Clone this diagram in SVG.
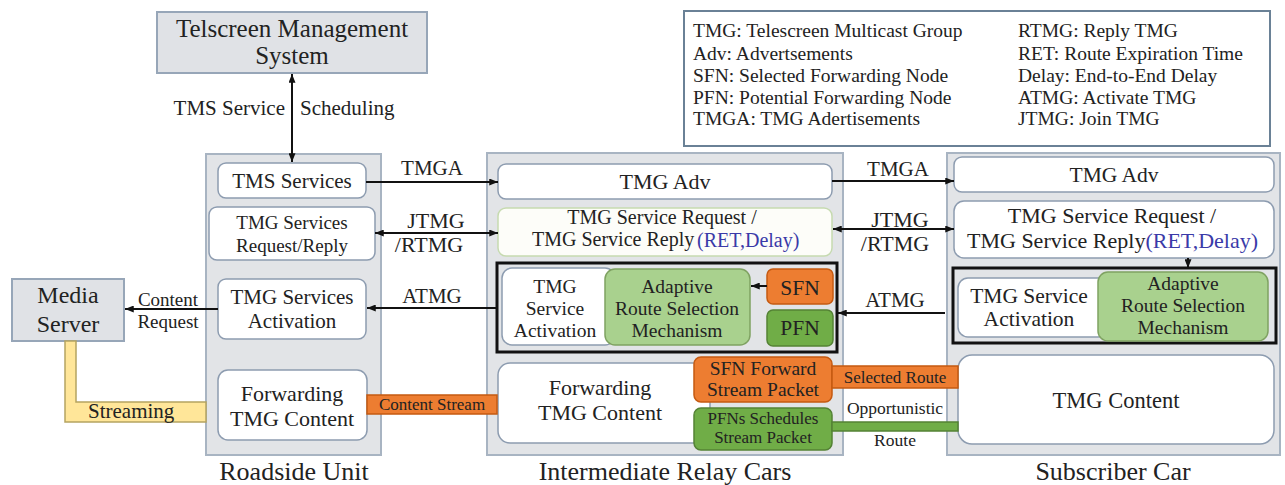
<svg xmlns="http://www.w3.org/2000/svg" width="1285" height="485" viewBox="0 0 1285 485" font-family="'Liberation Serif', 'DejaVu Serif', 'Times New Roman', serif">
<style>
text{font-family:'Liberation Serif','DejaVu Serif','Times New Roman',serif;fill:#222;}
.c{text-anchor:middle;}
.e{text-anchor:end;}
.cont{fill:#e2e4e7;stroke:#a8b4c2;stroke-width:2;}
.gray{fill:#e0e2e6;stroke:#97a6b8;stroke-width:2;}
.wb{fill:#fff;stroke:#8d9cb0;stroke-width:1.5;}
.gb{fill:#fdfdf9;stroke:#c6dab0;stroke-width:1.5;}
.lg{fill:#a9d18e;stroke:#7fa262;stroke-width:1.5;}
.dg{fill:#70ad47;stroke:#548235;stroke-width:1.5;}
.or{fill:#ed7d31;stroke:#c55a11;stroke-width:1.5;}
.blk{fill:none;stroke:#111;stroke-width:3;}
.ln{stroke:#111;stroke-width:2;fill:none;}
.blue{fill:#3a3aa8;}
.leg{font-size:19.5px;}
</style>
<defs>
<marker id="ah" viewBox="0 0 10 8" refX="10" refY="4" markerWidth="9" markerHeight="7" markerUnits="userSpaceOnUse" orient="auto-start-reverse">
<path d="M0,0 L10,4 L0,8 z" fill="#111"/>
</marker>
</defs>

<g id="legend">
<rect x="684" y="11" width="586" height="135" fill="#fff" stroke="#6a8196" stroke-width="2"/>
<text class="leg" x="693" y="37">TMG: Telescreen Multicast Group</text>
<text class="leg" x="693" y="60">Adv: Advertsements</text>
<text class="leg" x="693" y="82">SFN: Selected Forwarding Node</text>
<text class="leg" x="693" y="104">PFN: Potential Forwarding Node</text>
<text class="leg" x="693" y="125">TMGA: TMG Adertisements</text>
<text class="leg" x="1018" y="37">RTMG: Reply TMG</text>
<text class="leg" x="1018" y="60">RET: Route Expiration Time</text>
<text class="leg" x="1018" y="82">Delay: End-to-End Delay</text>
<text class="leg" x="1018" y="104">ATMG: Activate TMG</text>
<text class="leg" x="1018" y="125">JTMG: Join TMG</text>
</g>

<g id="tms">
<rect class="gray" x="157" y="12" width="270" height="61"/>
<text class="c" x="292" y="37" font-size="25">Telscreen Management</text>
<text class="c" x="292" y="64" font-size="25">System</text>
</g>

<g id="media-server">
<rect class="gray" x="12" y="279" width="112" height="62"/>
<text class="c" x="68" y="303" font-size="24">Media</text>
<text class="c" x="68" y="332" font-size="24">Server</text>
</g>

<g id="roadside-unit">
<rect class="cont" x="206" y="154" width="175" height="301"/>
<text class="c" x="294" y="480" font-size="26">Roadside Unit</text>
</g>
<g id="rsu-tms-services">
<rect class="wb" x="218" y="163" width="148" height="35" rx="8"/>
<text class="c" x="292" y="188" font-size="21">TMS Services</text>
</g>
<g id="rsu-request-reply">
<rect class="wb" x="209" y="207" width="166" height="53" rx="8"/>
<text class="c" x="292" y="229" font-size="19">TMG Services</text>
<text class="c" x="292" y="252" font-size="19">Request/Reply</text>
</g>
<g id="rsu-activation">
<rect class="wb" x="218" y="279" width="148" height="60" rx="8"/>
<text class="c" x="292" y="304" font-size="21">TMG Services</text>
<text class="c" x="292" y="328" font-size="21">Activation</text>
</g>
<g id="rsu-forwarding">
<rect class="wb" x="218" y="370" width="149" height="70" rx="10"/>
<text class="c" x="292" y="401" font-size="22">Forwarding</text>
<text class="c" x="292" y="426" font-size="22">TMG Content</text>
</g>

<g id="relay-cars">
<rect class="cont" x="487" y="153" width="356" height="302"/>
<text class="c" x="665" y="480" font-size="26">Intermediate Relay Cars</text>
</g>
<g id="relay-adv">
<rect class="wb" x="498" y="164" width="334" height="35" rx="8"/>
<text class="c" x="665" y="189" font-size="22">TMG Adv</text>
</g>
<g id="relay-request">
<rect class="gb" x="498" y="208" width="334" height="48" rx="8"/>
<text class="c" x="662" y="224" font-size="20">TMG Service Request /</text>
<text x="532" y="246" font-size="20">TMG Service Reply</text>
<text class="blue" x="697" y="247" font-size="20">(RET,Delay)</text>
</g>
<g id="relay-activation-group">
<rect class="blk" x="497" y="263" width="340" height="89"/>
<rect class="wb" x="502" y="268" width="113" height="77" rx="10"/>
<text class="c" x="555" y="293" font-size="19.5">TMG</text>
<text class="c" x="555" y="315" font-size="19.5">Service</text>
<text class="c" x="555" y="337" font-size="19.5">Activation</text>
</g>
<g id="relay-adaptive">
<rect class="lg" x="605" y="269" width="145" height="76" rx="10"/>
<text class="c" x="677" y="293" font-size="19.5">Adaptive</text>
<text class="c" x="677" y="315" font-size="19.5">Route Selection</text>
<text class="c" x="677" y="337" font-size="19.5">Mechanism</text>
</g>
<g id="relay-sfn">
<rect class="or" x="767" y="269" width="66" height="35" rx="6"/>
<text class="c" x="800" y="295" font-size="21.5">SFN</text>
</g>
<g id="relay-pfn">
<rect class="dg" x="767" y="310" width="66" height="36" rx="6"/>
<text class="c" x="800" y="335" font-size="21.5">PFN</text>
</g>
<g id="relay-forwarding">
<rect class="wb" x="498" y="363" width="212" height="80" rx="12"/>
<text class="c" x="600" y="395" font-size="22">Forwarding</text>
<text class="c" x="600" y="420" font-size="22">TMG Content</text>
</g>
<g id="relay-sfn-forward">
<rect class="or" x="694" y="357" width="138" height="45" rx="7"/>
<text class="c" x="763" y="375" font-size="19.5">SFN Forward</text>
<text class="c" x="763" y="396" font-size="19.5">Stream Packet</text>
</g>
<g id="relay-pfn-schedules">
<rect class="dg" x="694" y="408" width="138" height="42" rx="7"/>
<text class="c" x="763" y="424" font-size="17">PFNs Schedules</text>
<text class="c" x="763" y="443" font-size="17">Stream Packet</text>
</g>

<g id="subscriber-car">
<rect class="cont" x="947" y="153" width="333" height="302"/>
<text class="c" x="1113" y="480" font-size="26">Subscriber Car</text>
</g>
<g id="sub-adv">
<rect class="wb" x="954" y="157" width="320" height="35" rx="8"/>
<text class="c" x="1114" y="182" font-size="21.5">TMG Adv</text>
</g>
<g id="sub-request">
<rect class="wb" x="954" y="201" width="320" height="57" rx="10"/>
<text class="c" x="1112" y="223" font-size="22">TMG Service Request /</text>
<text x="967" y="248" font-size="22">TMG Service Reply<tspan class="blue">(RET,Delay)</tspan></text>
</g>
<g id="sub-activation-group">
<rect class="blk" x="953" y="268" width="323" height="75"/>
<rect class="wb" x="958" y="278" width="150" height="59" rx="10"/>
<text class="c" x="1029" y="303" font-size="21.5">TMG Service</text>
<text class="c" x="1029" y="326" font-size="21.5">Activation</text>
</g>
<g id="sub-adaptive">
<rect class="lg" x="1098" y="272" width="170" height="69" rx="10"/>
<text class="c" x="1183" y="290" font-size="19.5">Adaptive</text>
<text class="c" x="1183" y="312" font-size="19.5">Route Selection</text>
<text class="c" x="1183" y="334" font-size="19.5">Mechanism</text>
</g>
<g id="sub-content">
<rect class="wb" x="958" y="355" width="316" height="89" rx="14"/>
<text class="c" x="1116" y="408" font-size="22.5">TMG Content</text>
</g>

<g id="connectors">
<line class="ln" x1="292" y1="74" x2="292" y2="162" marker-start="url(#ah)" marker-end="url(#ah)"/>
<text class="e" x="285" y="115" font-size="21">TMS Service</text>
<text x="300" y="115" font-size="21">Scheduling</text>

<line class="ln" x1="218" y1="309" x2="125" y2="309" marker-end="url(#ah)"/>
<text class="c" x="168" y="306" font-size="19">Content</text>
<text class="c" x="168" y="328" font-size="19">Request</text>

<path d="M65,341 L76,341 L76,402 L206,402 L206,422 L65,422 Z" fill="#ffe699" stroke="#b5a460" stroke-width="1.5"/>
<text x="88" y="418" font-size="21" fill="#333">Streaming</text>

<rect class="or" x="367" y="395" width="130" height="19"/>
<text class="c" x="432" y="410" font-size="17">Content Stream</text>

<line class="ln" x1="366" y1="182" x2="498" y2="182" marker-end="url(#ah)"/>
<text class="c" x="432" y="175" font-size="21">TMGA</text>
<line class="ln" x1="375" y1="233" x2="498" y2="233" marker-start="url(#ah)" marker-end="url(#ah)"/>
<text class="c" x="436" y="228" font-size="22">JTMG</text>
<text class="c" x="429" y="252" font-size="22">/RTMG</text>
<line class="ln" x1="497" y1="308" x2="367" y2="308" marker-end="url(#ah)"/>
<text class="c" x="432" y="303" font-size="21">ATMG</text>

<line class="ln" x1="767" y1="286" x2="751" y2="286" marker-end="url(#ah)"/>

<line class="ln" x1="832" y1="181" x2="954" y2="181" marker-end="url(#ah)"/>
<text class="c" x="898" y="176" font-size="21">TMGA</text>
<line class="ln" x1="833" y1="229" x2="954" y2="229" marker-start="url(#ah)" marker-end="url(#ah)"/>
<text class="c" x="900" y="227" font-size="22">JTMG</text>
<text class="c" x="895" y="251" font-size="22">/RTMG</text>
<line class="ln" x1="945" y1="313" x2="838" y2="313" marker-end="url(#ah)"/>
<text class="c" x="895" y="307" font-size="21">ATMG</text>

<line class="ln" x1="1188" y1="258" x2="1188" y2="268" marker-end="url(#ah)"/>

<rect class="or" x="832" y="366" width="126" height="22"/>
<text class="c" x="895" y="383" font-size="17">Selected Route</text>
<rect class="dg" x="832" y="422" width="126" height="9"/>
<text class="c" x="895" y="414" font-size="17.5">Opportunistic</text>
<text class="c" x="895" y="446" font-size="17.5">Route</text>
</g>
</svg>
